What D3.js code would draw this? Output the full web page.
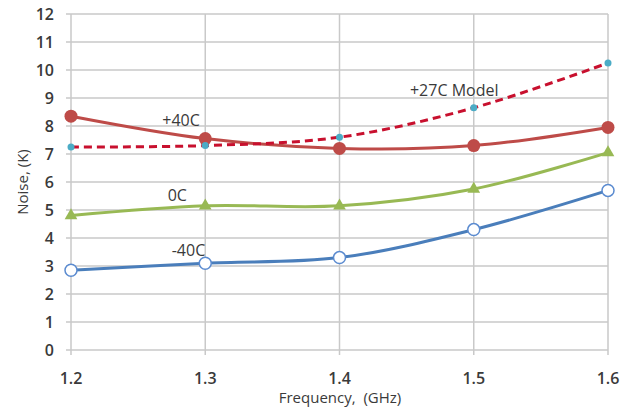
<!DOCTYPE html>
<html>
<head>
<meta charset="utf-8">
<script src="https://cdn.jsdelivr.net/npm/d3@7"></script>
<style>
  body { margin: 0; background: #fff; }
  svg text { font-family: "Open Sans", "Liberation Sans", sans-serif; fill: #3a3a3a; }
</style>
</head>
<body>
<div id="chart"></div>
<script>
// === Data ===
const freqs = [1.2, 1.3, 1.4, 1.5, 1.6];
const plus40 = [8.35, 7.55, 7.2, 7.3, 7.95];
const model27 = [7.25, 7.3, 7.6, 8.65, 10.25];
const zeroC = [4.8, 5.15, 5.15, 5.75, 7.05];
const minus40 = [2.85, 3.1, 3.3, 4.3, 5.7];
const yTicks = d3.range(0, 13);
const xTicks = [1.2, 1.3, 1.4, 1.5, 1.6];

const width = 633, height = 409;
const margin = { top: 14, right: 25, bottom: 59, left: 71 };

const svg = d3.select('#chart')
    .append('svg')
    .attr('width', width)
    .attr('height', height);

const x = d3.scaleLinear().domain([1.2, 1.6]).range([margin.left, width - margin.right]);
const y = d3.scaleLinear().domain([0, 12]).range([height - margin.bottom, margin.top]);

// gridlines
svg.append('g')
    .selectAll('line')
    .data(yTicks)
    .enter()
    .append('line')
    .attr('x1', x(1.2) - 5)
    .attr('x2', x(1.6))
    .attr('y1', d => y(d))
    .attr('y2', d => y(d))
    .attr('stroke', '#c9c9c9')
    .attr('stroke-width', 1.5);

svg.append('g')
    .selectAll('line')
    .data(xTicks)
    .enter()
    .append('line')
    .attr('x1', d => x(d))
    .attr('x2', d => x(d))
    .attr('y1', y(12))
    .attr('y2', y(0) + 5)
    .attr('stroke', '#c9c9c9')
    .attr('stroke-width', 1.5);

// tick labels
svg.append('g')
    .selectAll('text')
    .data(yTicks)
    .enter()
    .append('text')
    .attr('x', x(1.2) - 17)
    .attr('y', d => y(d))
    .attr('text-anchor', 'end')
    .attr('dominant-baseline', 'central')
    .attr('font-size', 16)
    .attr('font-weight', 600)
    .text(d => d);

svg.append('g')
    .selectAll('text')
    .data(xTicks)
    .enter()
    .append('text')
    .attr('x', d => x(d))
    .attr('y', y(0) + 28)
    .attr('text-anchor', 'middle')
    .attr('dominant-baseline', 'central')
    .attr('font-size', 16)
    .attr('font-weight', 600)
    .text(d => d3.format('.1f')(d));

// axis titles
svg.append('text')
    .attr('x', 340)
    .attr('y', 397)
    .attr('text-anchor', 'middle')
    .attr('dominant-baseline', 'central')
    .attr('font-size', 15)
    .attr('xml:space', 'preserve')
    .text('Frequency,  (GHz)');

svg.append('text')
    .attr('transform', `translate(22,${y(6)}) rotate(-90)`)
    .attr('text-anchor', 'middle')
    .attr('dominant-baseline', 'central')
    .attr('font-size', 15)
    .text('Noise, (K)');

// series
const line = d3.line()
    .x((d, i) => x(freqs[i]))
    .y(d => y(d))
    .curve(d3.curveCatmullRom.alpha(0.5));

function drawLine(vals, color, dash) {
    svg.append('path')
        .datum(vals)
        .attr('fill', 'none')
        .attr('stroke', color)
        .attr('stroke-width', 3)
        .attr('stroke-dasharray', dash || null)
        .attr('d', line);
}

drawLine(minus40, '#4a7ebb');
drawLine(zeroC, '#98b954');
drawLine(plus40, '#be4b48');
drawLine(model27, '#c8102e', '8,5');

// markers
svg.append('g')
    .selectAll('circle')
    .data(minus40)
    .enter()
    .append('circle')
    .attr('cx', (d, i) => x(freqs[i]))
    .attr('cy', d => y(d))
    .attr('r', 6)
    .attr('fill', '#fff')
    .attr('stroke', '#5b8bd0')
    .attr('stroke-width', 1.5);

svg.append('g')
    .selectAll('path')
    .data(zeroC)
    .enter()
    .append('path')
    .attr('d', d3.symbol().type(d3.symbolTriangle).size(70))
    .attr('transform', (d, i) => `translate(${x(freqs[i])},${y(d)})`)
    .attr('fill', '#98b954');

svg.append('g')
    .selectAll('circle')
    .data(plus40)
    .enter()
    .append('circle')
    .attr('cx', (d, i) => x(freqs[i]))
    .attr('cy', d => y(d))
    .attr('r', 6.5)
    .attr('fill', '#be4b48');

svg.append('g')
    .selectAll('circle')
    .data(model27)
    .enter()
    .append('circle')
    .attr('cx', (d, i) => x(freqs[i]))
    .attr('cy', d => y(d))
    .attr('r', 3.5)
    .attr('fill', '#4bacc6');

// series labels
const labels = [
    { text: '+40C', fx: 1.268, v: 8.21 },
    { text: '+27C Model', fx: 1.4525, v: 9.29 },
    { text: '0C', fx: 1.272, v: 5.54 },
    { text: '-40C', fx: 1.275, v: 3.57 }
];

svg.append('g')
    .selectAll('text')
    .data(labels)
    .enter()
    .append('text')
    .attr('x', d => x(d.fx))
    .attr('y', d => y(d.v))
    .attr('dominant-baseline', 'central')
    .attr('font-size', 16)
    .attr('fill', '#303030')
    .text(d => d.text);
</script>
</body>
</html>
